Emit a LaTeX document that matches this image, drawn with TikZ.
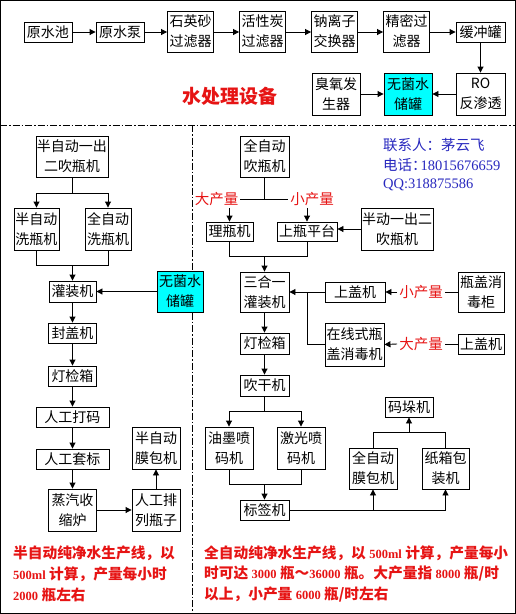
\documentclass[tikz,border=0pt]{standalone}
\usepackage{fontspec}
\setmainfont{Noto Sans CJK SC}
\newfontfamily\latinserif{Liberation Serif}
\usetikzlibrary{arrows.meta}
\definecolor{myred}{RGB}{230,20,20}
\definecolor{myblue}{RGB}{40,40,190}
\definecolor{mycyan}{RGB}{0,255,255}
\newcommand{\lat}[1]{{\fontsize{12.5}{17}\selectfont\latinserif\bfseries #1}}
\begin{document}
\begin{tikzpicture}[x=1pt,y=-1pt,
  box/.style={draw, line width=0.9pt, inner sep=0pt, align=center,
    font=\fontsize{14}{20}\selectfont},
  ln/.style={line width=0.9pt},
  arr/.style={line width=0.9pt, -{Triangle[length=6pt,width=6pt]}},
  lab/.style={text=myred, inner sep=2pt, font=\fontsize{14.5}{17}\selectfont},
  note/.style={text=myred, anchor=west, inner sep=0pt, font=\fontsize{14.7}{17}\selectfont\bfseries},
  contact/.style={text=myblue, anchor=west, inner sep=0pt, font=\fontsize{14.5}{17}\selectfont},
  dashdot/.style={line width=0.8pt, dash pattern=on 7pt off 2pt on 1.5pt off 2pt}
]
\useasboundingbox (0,0) rectangle (516,614);
\draw[line width=1pt] (0.5,0.5) rectangle (515.5,613.5);
% dash-dot dividers
\coordinate (dl) at (0,125);
\coordinate (dr) at (516,125);
\coordinate (dt) at (192,125);
\coordinate (db) at (192,614);
\draw[dashdot] (dl) -- (dr);
\draw[dashdot] (dt) -- (db);

% ---------- water treatment ----------
\node[box, minimum width=48, minimum height=20] (r1) at (48,32) {原水池};
\node[box, minimum width=48, minimum height=20] (r2) at (120,32) {原水泵};
\node[box, minimum width=46, minimum height=41] (r3) at (190.5,31.5) {石英砂\\过滤器};
\node[box, minimum width=46, minimum height=41] (r4) at (262.5,31.5) {活性炭\\过滤器};
\node[box, minimum width=46, minimum height=41] (r5) at (334.5,31.5) {钠离子\\交换器};
\node[box, minimum width=46, minimum height=41] (r6) at (406.5,31.5) {精密过\\滤器};
\node[box, minimum width=49, minimum height=20] (r7) at (480.5,32) {缓冲罐};
\node[box, minimum width=49, minimum height=42] (r8) at (480.5,94) {RO\\反渗透};
\node[box, fill=mycyan, minimum width=48, minimum height=42] (r9) at (408,94) {无菌水\\储罐};
\node[box, minimum width=48, minimum height=42] (r10) at (336,94) {臭氧发\\生器};
\node[text=myred, font=\fontsize{19}{22}\selectfont\bfseries] (title) at (230,96) {水处理设备};

\draw[arr] (r1.east) -- (r2.west);
\draw[arr] (r2.east) -- (r2.east -| r3.west);
\draw[arr] (r3.east |- r2.east) -- (r2.east -| r4.west);
\draw[arr] (r4.east |- r2.east) -- (r2.east -| r5.west);
\draw[arr] (r5.east |- r2.east) -- (r2.east -| r6.west);
\draw[arr] (r6.east |- r2.east) -- (r7.west);
\draw[arr] (r7.south) -- (r8.north);
\draw[arr] (r8.west) -- (r9.east);
\draw[arr] (r10.east) -- (r9.west);

% contact
\node[contact] (c1) at (383,145) {联系人：茅云飞};
\node[contact] (c2) at (383,165) {电话：\kern-6pt{\latinserif 18015676659}};
\node[contact] (c3) at (383,185) {{\latinserif QQ:318875586}};

% ---------- left: semi-automatic ----------
\node[box, minimum width=72, minimum height=41] (L1) at (72,156.5) {半自动一出\\二吹瓶机};
\node[box, minimum width=45, minimum height=42] (L2) at (36.5,229) {半自动\\洗瓶机};
\node[box, minimum width=46, minimum height=42] (L3) at (108,229) {全自动\\洗瓶机};
\node[box, minimum width=47, minimum height=21] (L4) at (72.5,291.5) {灌装机};
\node[box, fill=mycyan, minimum width=46, minimum height=41] (M) at (180,291.5) {无菌水\\储罐};
\node[box, minimum width=48, minimum height=20] (L5) at (72.5,333) {封盖机};
\node[box, minimum width=48, minimum height=20] (L6) at (72.5,376) {灯检箱};
\node[box, minimum width=73, minimum height=20] (L7) at (72.5,417) {人工打码};
\node[box, minimum width=73, minimum height=20] (L8) at (72.5,459) {人工套标};
\node[box, minimum width=48, minimum height=42] (L9) at (72.5,510) {蒸汽收\\缩炉};
\node[box, minimum width=48, minimum height=42] (L10) at (156,510) {人工排\\列瓶子};
\node[box, minimum width=48, minimum height=42] (L11) at (156,448) {半自动\\膜包机};

\coordinate (Lb) at (72.5,193);
\coordinate (Lj) at (72.5,265);
\draw[ln] (L1.south -| Lb) -- (Lb);
\draw[arr] (Lb) -| (L2.north);
\draw[arr] (Lb) -| (L3.north);
\draw[ln] (L2.south) |- (Lj);
\draw[ln] (L3.south) |- (Lj);
\draw[arr] (Lj) -- (L4.north);
\draw[arr] (M.west) -- (L4.east);
\draw[arr] (L4.south) -- (L5.north);
\draw[arr] (L5.south) -- (L6.north);
\draw[arr] (L6.south) -- (L7.north);
\draw[arr] (L7.south) -- (L8.north);
\draw[arr] (L8.south) -- (L9.north);
\draw[arr] (L9.east) -- (L10.west);
\draw[arr] (L10.north) -- (L11.south);

% ---------- right: fully automatic ----------
\node[box, minimum width=49, minimum height=41] (R1) at (264.5,156.5) {全自动\\吹瓶机};
\node[lab] (lbig) at (216.5,199) {大产量};
\node[lab] (lsmall) at (312,199) {小产量};
\node[box, minimum width=47, minimum height=19] (R2) at (229.5,231.5) {理瓶机};
\node[box, minimum width=60, minimum height=19] (R3) at (307,231.5) {上瓶平台};
\node[box, minimum width=72, minimum height=42] (R4) at (397,229) {半动一出二\\吹瓶机};
\node[box, minimum width=49, minimum height=40] (R5) at (264.5,292) {三合一\\灌装机};
\node[box, minimum width=60, minimum height=20] (R6) at (355,292) {上盖机};
\node[lab] (lsmall2) at (421,292) {小产量};
\node[box, minimum width=46, minimum height=40] (R7) at (481,292) {瓶盖消\\毒柜};
\node[box, minimum width=59, minimum height=43] (R8) at (354.5,344.5) {在线式瓶\\盖消毒机};
\node[lab] (lbig2) at (421,344) {大产量};
\node[box, minimum width=46, minimum height=20] (R9) at (481,344) {上盖机};
\node[box, minimum width=49, minimum height=21] (R10) at (264.5,343.5) {灯检箱};
\node[box, minimum width=49, minimum height=21] (R11) at (264.5,385.5) {吹干机};
\node[box, minimum width=48, minimum height=42] (R12) at (229,448) {油墨喷\\码机};
\node[box, minimum width=48, minimum height=42] (R13) at (301,448) {激光喷\\码机};
\node[box, minimum width=49, minimum height=20] (R14) at (264.5,510) {标签机};
\node[box, minimum width=48, minimum height=41] (R15) at (373,468.5) {全自动\\膜包机};
\node[box, minimum width=47, minimum height=41] (R16) at (445.5,468.5) {纸箱包\\装机};
\node[box, minimum width=48, minimum height=20] (R17) at (409,407) {码垛机};

\coordinate (Rb) at (264.5,199);
\draw[ln] (R1.south) -- (Rb);
\draw[ln] (lbig.east) -- (lsmall.west);
\draw[arr] (lbig.south -| R2.north) -- (R2.north);
\draw[arr] (lsmall.south -| R3.north) -- (R3.north);
\draw[arr] (R4.west) -- (R4.west -| R3.east);
\coordinate (Rj) at (264.5,256);
\draw[ln] (R2.south) |- (Rj);
\draw[ln] (R3.south) |- (Rj);
\draw[arr] (Rj) -- (R5.north);
\draw[arr] (R6.west) -- (R5.east);
\draw[ln] (R7.west) -- (lsmall2.east);
\draw[arr] (lsmall2.west) -- (R6.east);
\draw[ln] (R9.west) -- (lbig2.east);
\draw[arr] (lbig2.west) -- (R8.east);
\coordinate (Rk) at (307,292);
\draw[ln] (R8.west) -| (Rk);
\draw[arr] (R5.south) -- (R10.north);
\draw[arr] (R10.south) -- (R11.north);
\coordinate (Rs) at (264.5,411);
\draw[ln] (R11.south) -- (Rs);
\draw[arr] (Rs) -| (R12.north);
\draw[arr] (Rs) -| (R13.north);
\coordinate (Rm) at (264.5,484);
\draw[ln] (R12.south) |- (Rm);
\draw[ln] (R13.south) |- (Rm);
\draw[arr] (Rm) -- (R14.north);
\draw[ln] (R14.east) -- (R14.east -| R16.south);
\draw[arr] (R14.east -| R15.south) -- (R15.south);
\draw[arr] (R14.east -| R16.south) -- (R16.south);
\coordinate (Rt) at (409,432);
\draw[ln] (R15.north) |- (Rt);
\draw[ln] (R16.north) |- (Rt);
\draw[arr] (Rt) -- (R17.south);

% ---------- notes ----------
\node[note] (n1) at (13,553) {半自动纯净水生产线，以};
\node[note] (n2) at (13,574) {\lat{500ml} 计算，产量每小时};
\node[note] (n3) at (13,595) {\lat{2000} 瓶左右};
\node[note] (n4) at (204,553) {全自动纯净水生产线，以 \lat{500ml} 计算，产量每小};
\node[note] (n5) at (204,574) {时可达 \lat{3000} 瓶～\lat{36000} 瓶。大产量指 \lat{8000} 瓶/时};
\node[note] (n6) at (204,595) {以上，小产量 \lat{6000} 瓶/时左右};
\end{tikzpicture}
\end{document}
